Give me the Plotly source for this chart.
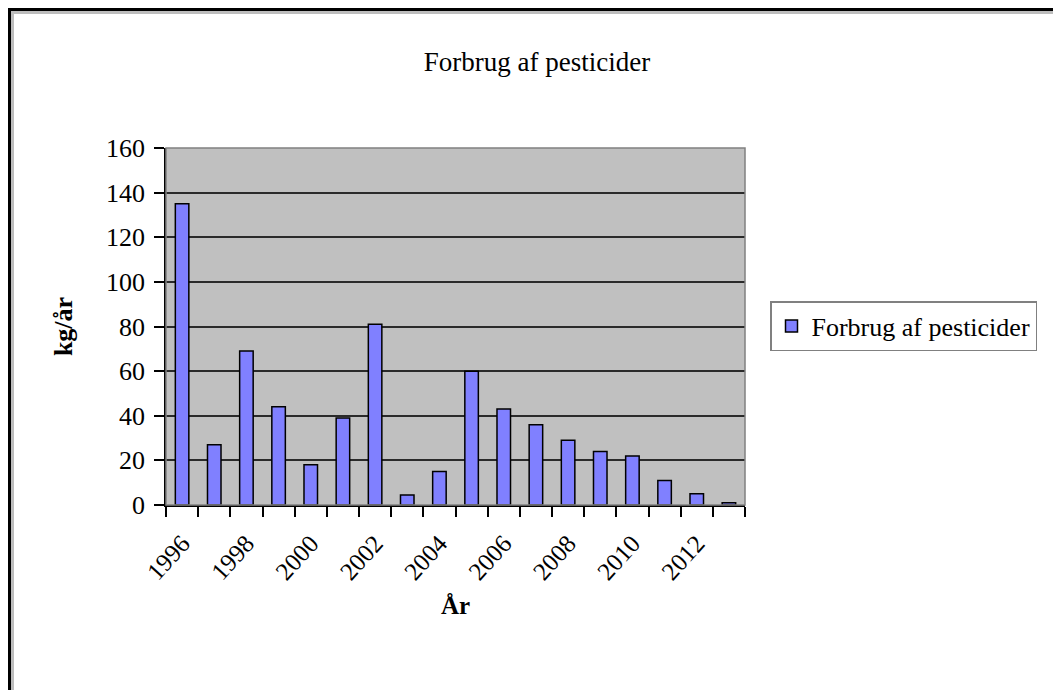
import plotly.graph_objects as go

# data
years = [1996, 1997, 1998, 1999, 2000, 2001, 2002, 2003, 2004,
         2005, 2006, 2007, 2008, 2009, 2010, 2011, 2012, 2013]
forbrug = [135, 27, 69, 44, 18, 39, 81, 4.5, 15,
           60, 43, 36, 29, 24, 22, 11, 5, 1]
tick_years = [1996, 1998, 2000, 2002, 2004, 2006, 2008, 2010, 2012]
y_ticks = [0, 20, 40, 60, 80, 100, 120, 140, 160]

serif = "Liberation Serif, Times New Roman, serif"

# the page body adds ~8px, so everything is laid out 8px up/left
OFF = 8
L, T = 166 - OFF, 148 - OFF
PW, PH = 579, 357

fig = go.Figure()

fig.add_trace(go.Bar(
    x=years,
    y=forbrug,
    name="Forbrug af pesticider",
    width=0.42,
    marker=dict(color="#8080FF", line=dict(color="black", width=1.5)),
    showlegend=True
))

fig.update_layout(
    width=1061,
    height=690,
    margin=dict(l=L, r=1061 - L - PW, t=T, b=690 - T - PH),
    paper_bgcolor="white",
    plot_bgcolor="#C0C0C0",
    font=dict(family=serif, color="black"),
    title=dict(
        text="Forbrug af pesticider",
        xref="container", x=529 / 1061, xanchor="center",
        yref="container", y=1 - 54 / 690, yanchor="middle",
        font=dict(size=27, family=serif, color="black")
    ),
    xaxis=dict(
        range=[1995.5, 2013.5],
        tickvals=tick_years,
        ticktext=[str(t) for t in tick_years],
        tickangle=-48,
        ticks="",
        tickfont=dict(size=25),
        ticklabelstandoff=12,
        showgrid=False,
        zeroline=False,
        showline=True,
        linecolor="black",
        linewidth=1.5,
        minor=dict(tick0=1995.5, dtick=1, ticks="outside", ticklen=10,
                   tickcolor="black", tickwidth=1.5, showgrid=False),
        title=dict(text="<b>År</b>", font=dict(size=25), standoff=12)
    ),
    yaxis=dict(
        range=[0, 160],
        tickvals=y_ticks,
        ticks="outside",
        ticklen=10,
        tickwidth=1.5,
        tickcolor="black",
        tickfont=dict(size=26),
        ticklabelstandoff=4,
        showgrid=True,
        gridcolor="#2a2a2a",
        gridwidth=1.5,
        zeroline=False,
        showline=True,
        linecolor="black",
        linewidth=1.5,
        title=dict(text="<b>kg/år</b>", font=dict(size=26), standoff=26)
    ),
    legend=dict(
        x=(762 - L) / PW,
        xanchor="left",
        y=(PH - (326 - OFF - T)) / PH,
        yanchor="middle",
        bgcolor="white",
        bordercolor="#808080",
        borderwidth=1.5,
        font=dict(size=26, family=serif),
        itemwidth=30
    )
)

# grey frame of the plot area (right / top edges)
fig.add_shape(type="rect", xref="paper", yref="paper", x0=0, x1=1, y0=0, y1=1,
              line=dict(color="#808080", width=1.5), layer="above")

# outer chart frame: thick black line with a grey shadow inside
fig.add_shape(type="rect", xref="paper", yref="paper",
              x0=(4.5 - L) / PW, x1=(1080 - L) / PW,
              y0=-(710 - T - PH) / PH, y1=1 + (T - 4.5) / PH,
              line=dict(color="#bdbdbd", width=3))
fig.add_shape(type="rect", xref="paper", yref="paper",
              x0=(1.5 - L) / PW, x1=(1080 - L) / PW,
              y0=-(710 - T - PH) / PH, y1=1 + (T - 1.5) / PH,
              line=dict(color="black", width=3))

fig.write_html("out.html")
